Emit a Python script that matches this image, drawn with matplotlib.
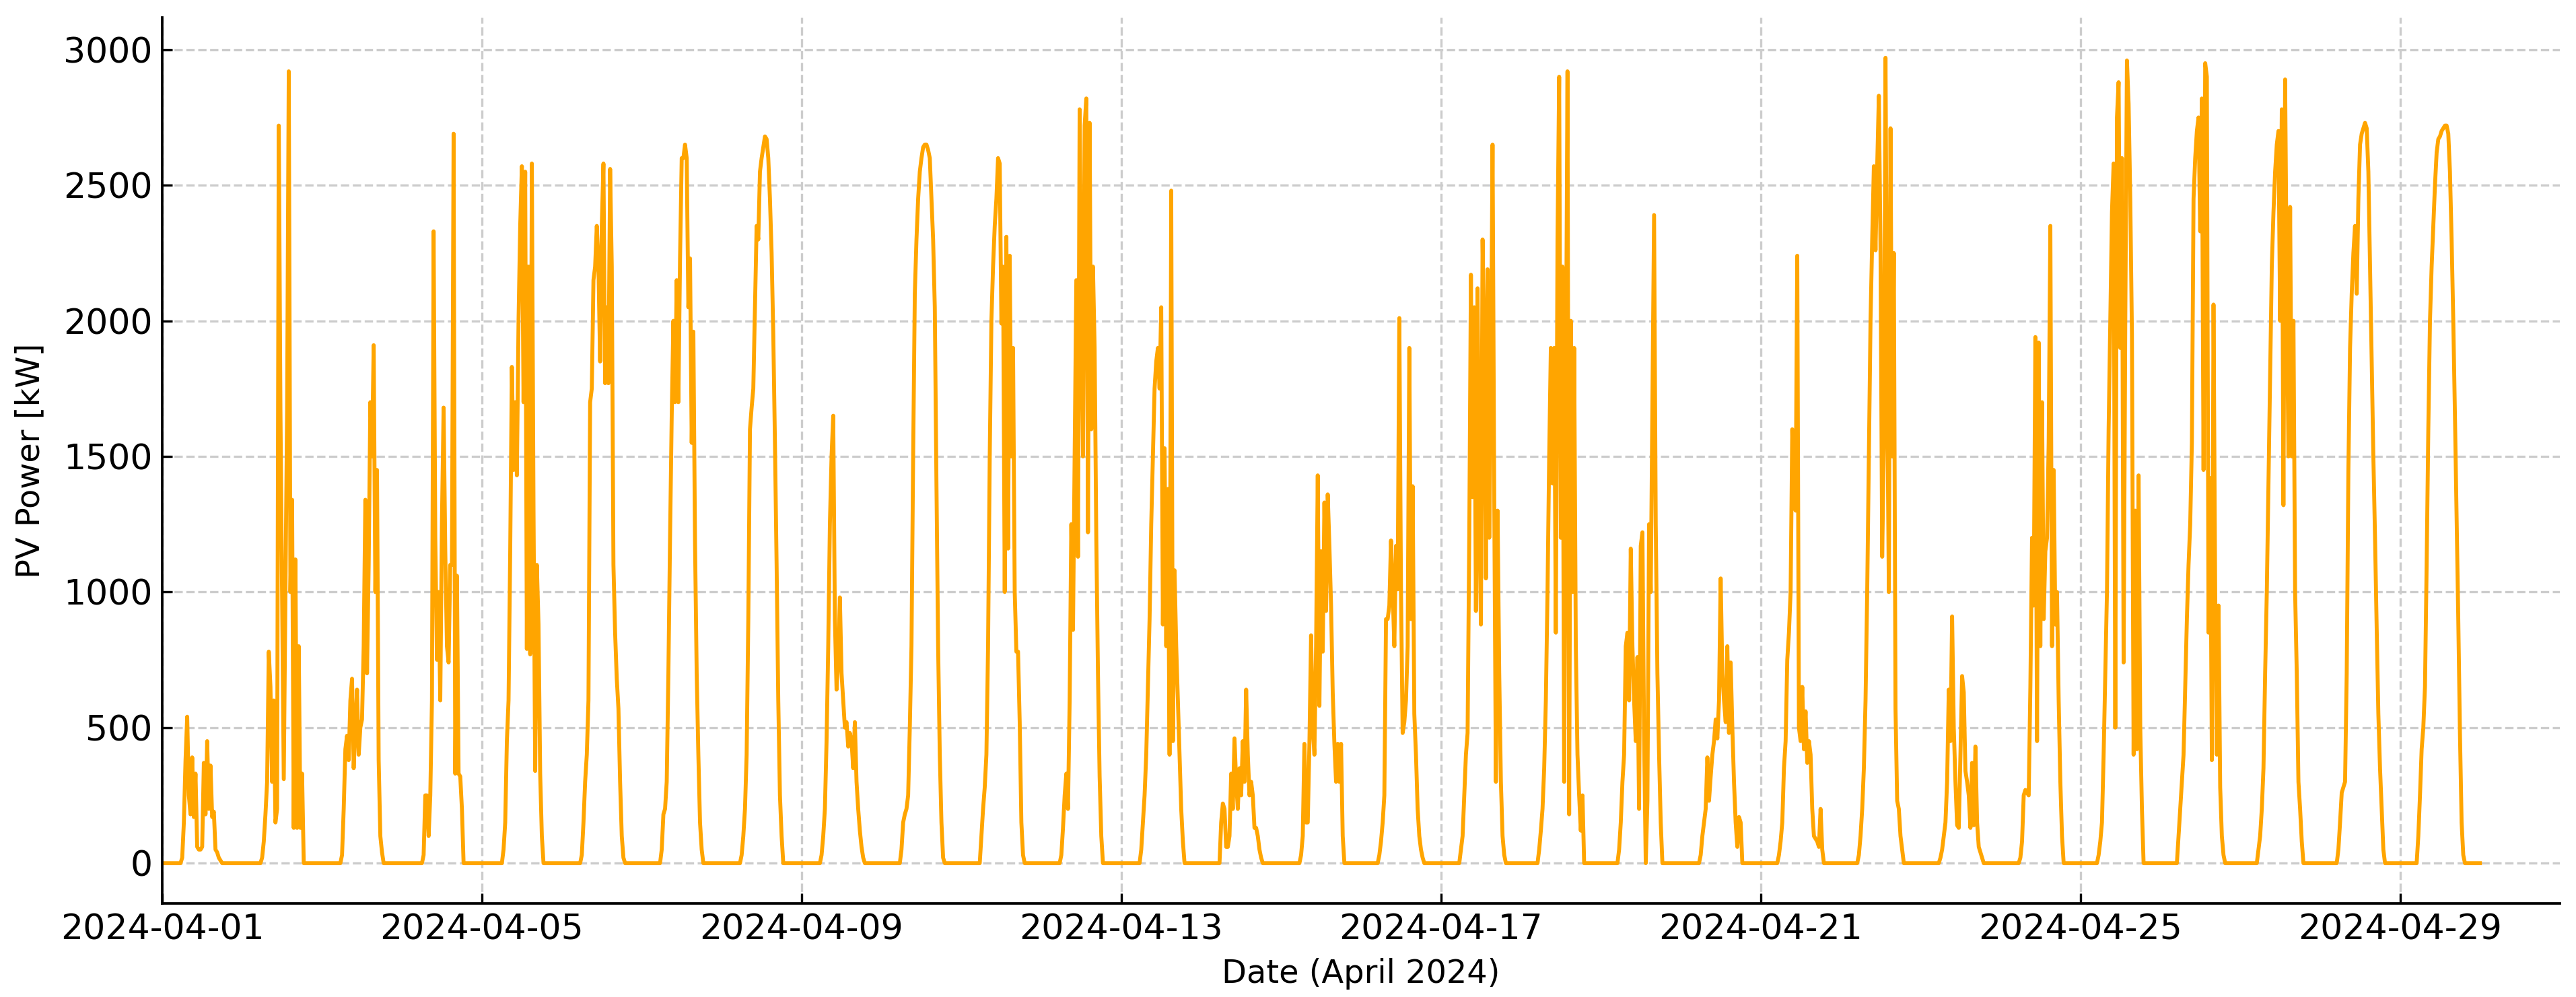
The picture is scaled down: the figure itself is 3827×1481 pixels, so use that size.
import numpy as np
import pandas as pd
import matplotlib
matplotlib.use("Agg")
import matplotlib.pyplot as plt
import matplotlib.dates as mdates

# ---- data: PV power [kW], half-hour values from 05:00 to 19:30 each day (zero at night)
first_slot_hour = 5.0
day_01 = [0,0,20,150,380,540,250,180,390,170,330,60,50,50,60,370,180,450,200,360,170,190,50,40,20,10,0,0,0,0]
day_02 = [0,0,20,80,180,300,780,650,300,600,150,200,2720,1670,1000,310,1000,1670,2920,1000,1340,130,1120,130,800,130,330,0,0,0]
day_03 = [0,0,30,200,420,470,380,600,680,350,500,640,400,500,530,800,1340,700,1100,1700,1500,1910,1000,1450,380,100,40,0,0,0]
day_04 = [0,0,0,30,250,250,100,250,600,2330,1200,750,1000,600,1260,1680,1150,800,740,1100,1100,2690,330,1060,330,320,200,0,0,0]
day_05 = [0,0,0,50,150,450,600,1150,1830,1450,1700,1430,2000,2350,2570,1700,2550,790,2200,770,2580,1300,340,1100,880,330,100,0,0,0]
day_06 = [0,0,30,150,300,400,600,1700,1750,2150,2200,2350,2200,1850,2350,2580,1770,2050,1770,2560,2200,1100,850,680,570,300,100,20,0,0]
day_07 = [0,0,50,180,200,300,700,1200,1650,2000,1700,2150,1700,2230,2600,2600,2650,2600,2050,2230,1550,1960,1180,700,400,150,50,0,0,0]
day_08 = [0,0,30,100,200,400,900,1600,1680,1750,2050,2350,2300,2550,2600,2640,2680,2670,2600,2450,2250,1950,1550,1100,600,250,100,0,0,0]
day_09 = [0,0,30,100,200,450,800,1250,1500,1650,900,640,750,980,700,600,500,520,430,480,450,350,520,300,200,120,60,20,0,0]
day_10 = [0,0,50,150,180,200,250,500,800,1500,2100,2300,2450,2550,2600,2640,2650,2650,2630,2600,2450,2300,2050,1400,800,400,150,20,0,0]
day_11 = [0,0,100,200,280,400,800,1500,2000,2200,2350,2450,2600,2580,1990,2200,1000,2310,1160,2240,1500,1900,1000,780,780,520,150,30,0,0]
day_12 = [0,0,30,130,250,330,200,600,1250,860,1500,2150,1130,2780,2070,1500,2720,2820,1220,2730,1600,2200,1900,1200,700,320,100,0,0,0]
day_13 = [0,0,50,150,250,400,650,900,1250,1500,1750,1850,1900,1750,2050,880,1530,800,1380,400,2480,450,1080,800,600,400,200,80,0,0]
day_14 = [0,0,150,220,200,60,60,100,330,200,460,300,200,350,250,450,300,640,400,250,300,250,130,130,100,50,20,0,0,0]
day_15 = [0,0,30,100,440,150,150,440,840,500,400,800,1430,580,1150,780,1330,930,1360,1170,950,630,440,300,440,300,440,100,0,0]
day_16 = [0,30,80,150,250,900,900,950,1190,1000,800,1170,1010,2010,1000,480,520,600,800,1900,900,1390,550,400,200,100,50,20,0,0]
day_17 = [0,0,50,100,250,400,480,1200,2170,1350,2050,930,2120,1300,880,2300,1900,1050,2190,1200,1800,2650,1350,300,1300,700,300,100,30,0]
day_18 = [0,50,120,200,350,600,1000,1500,1900,1400,1900,850,2300,2900,1200,2200,300,1700,2920,180,2000,1000,1900,800,400,250,120,250,0,0]
day_19 = [0,50,150,300,400,800,850,600,1160,800,600,450,760,200,1170,1220,460,0,230,1250,1000,1700,2390,1250,700,400,150,0,0,0]
day_20 = [0,0,30,100,150,200,390,230,320,400,450,530,460,600,1050,700,600,520,800,480,740,500,300,150,60,170,150,0,0,0]
day_21 = [0,30,80,150,350,450,750,850,1000,1600,1350,1300,2240,500,450,650,420,560,370,450,400,200,100,90,80,60,200,50,0,0]
day_22 = [0,30,100,200,350,600,1000,1500,2000,2300,2570,2260,2570,2830,2260,1130,1540,2970,1800,1000,2710,1500,2250,570,230,200,100,50,0,0]
day_23 = [0,0,20,50,100,150,300,640,450,910,500,300,140,130,400,690,630,340,300,250,130,370,140,430,150,60,40,20,0,0]
day_24 = [0,0,20,80,250,270,260,250,650,1200,950,1940,450,1920,800,1700,900,1150,1200,1550,2350,800,1450,880,1000,600,300,100,0,0]
day_25 = [0,30,80,150,400,700,1000,1600,2000,2400,2580,500,2750,2880,1900,2600,740,2000,2960,2800,2450,1950,400,1300,420,1430,500,200,0,0]
day_26 = [0,100,200,300,400,650,900,1100,1250,1550,2450,2600,2700,2750,2330,2820,1450,2950,2900,850,1420,380,2060,1000,400,950,280,100,30,0]
day_27 = [0,50,100,200,350,700,1000,1400,1800,2200,2400,2550,2650,2700,2000,2780,1320,2890,2100,1500,2420,1500,2000,1000,700,300,200,80,0,0]
day_28 = [0,50,150,260,280,300,700,1450,1900,2100,2250,2350,2100,2450,2650,2690,2710,2730,2710,2550,2200,1850,1500,1200,865,550,350,200,50,0]
day_29 = [0,100,250,420,500,650,1100,1600,2000,2200,2350,2500,2620,2670,2680,2700,2710,2720,2720,2690,2550,2300,2000,1650,1275,900,480,150,30,0]

days = [day_01, day_02, day_03, day_04, day_05, day_06, day_07, day_08, day_09, day_10,
        day_11, day_12, day_13, day_14, day_15, day_16, day_17, day_18, day_19, day_20,
        day_21, day_22, day_23, day_24, day_25, day_26, day_27, day_28, day_29]

tick_dates = ["2024-04-01", "2024-04-05", "2024-04-09", "2024-04-13", "2024-04-17",
              "2024-04-21", "2024-04-25", "2024-04-29"]

# ---- build the half-hourly series
index = pd.date_range("2024-04-01 00:00", "2024-04-30 00:00", freq="30min")
power = np.zeros(len(index))
offset = int(first_slot_hour * 2)
for d, vals in enumerate(days):
    base = d * 48 + offset
    power[base:base + len(vals)] = vals
series = pd.Series(power, index=index)

# ---- figure
W, H, DPI = 3827, 1481, 300
fig = plt.figure(figsize=(W / DPI, H / DPI), dpi=DPI)
ax = fig.add_axes([241 / W, 1 - 1342 / H, (3803 - 241) / W, (1342 - 26) / H])

ax.plot(series.index, series.values, color="#FFA500", linewidth=1.4)

ax.set_xlim(pd.Timestamp("2024-04-01"), pd.Timestamp("2024-05-01"))
ax.set_ylim(-148.5, 3118.5)
ax.set_xticks(pd.to_datetime(tick_dates))
ax.xaxis.set_major_formatter(mdates.DateFormatter("%Y-%m-%d"))
ax.set_yticks(np.arange(0, 3001, 500))

ax.grid(True, linestyle="--", color="#cccccc", linewidth=0.8)
ax.set_axisbelow(True)
for s in ("top", "right"):
    ax.spines[s].set_visible(False)
for s in ("left", "bottom"):
    ax.spines[s].set_linewidth(0.9)

ax.tick_params(axis="both", direction="in", labelsize=12.5, length=3.5, width=0.8)
ax.set_xlabel("Date (April 2024)", fontsize=11.5, labelpad=4)
ax.set_ylabel("PV Power [kW]", fontsize=11.5, labelpad=6)

fig.savefig("out.png", dpi=DPI)
